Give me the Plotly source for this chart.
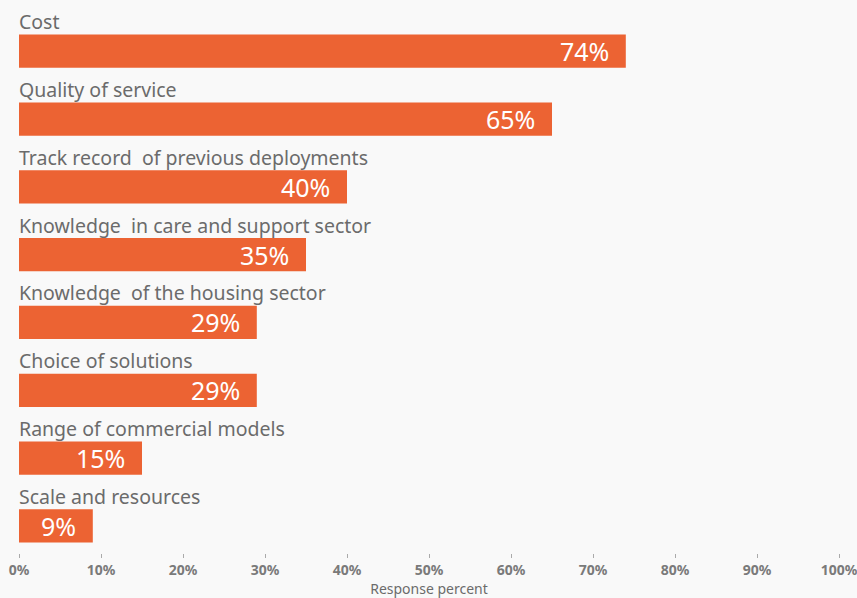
import plotly.graph_objects as go

# Survey factors and share of responses (%)
categories = [
    "Cost",
    "Quality of service",
    "Track record  of previous deployments",
    "Knowledge  in care and support sector",
    "Knowledge  of the housing sector",
    "Choice of solutions",
    "Range of commercial models",
    "Scale and resources",
]
values = [74, 65, 40, 35, 29, 29, 15, 9]
tick_values = [0, 10, 20, 30, 40, 50, 60, 70, 80, 90, 100]
tick_labels = [f"{t}%" for t in tick_values]

BAR_COLOR = "#EC6333"
BG = "#F9F9F9"
LABEL_COLOR = "#6B6B6B"
FONT = "'Noto Sans', 'Open Sans', sans-serif"

fig = go.Figure(
    go.Bar(
        x=values,
        y=categories,
        orientation="h",
        marker=dict(color=BAR_COLOR, line=dict(width=0)),
        width=0.49,
        hoverinfo="skip",
    )
)

annotations = []
for cat, val in zip(categories, values):
    # factor name sitting just above its bar
    annotations.append(dict(
        x=0, y=cat, xref="x", yref="y",
        text=cat, showarrow=False,
        xanchor="left", yanchor="bottom",
        xshift=-2, yshift=14,
        font=dict(family=FONT, size=19.5, color=LABEL_COLOR),
    ))
    # value label inside the bar end
    annotations.append(dict(
        x=val, y=cat, xref="x", yref="y",
        text=f"{val}%", showarrow=False,
        xanchor="right", yanchor="middle",
        xshift=-15, yshift=0,
        font=dict(family=FONT, size=25, color="white"),
    ))

fig.update_layout(
    width=857, height=598,
    margin=dict(l=19, r=18, t=18, b=45),
    paper_bgcolor=BG, plot_bgcolor=BG,
    showlegend=False,
    annotations=annotations,
    xaxis=dict(
        range=[0, 100],
        tickvals=tick_values, ticktext=tick_labels,
        ticks="outside", ticklen=4, tickwidth=1, tickcolor="#AAAAAA",
        showgrid=False, zeroline=False, showline=False,
        tickfont=dict(family=FONT, size=14, color="#7A7A7A", weight="bold"),
        ticklabeloverflow="allow",
        title=dict(text="Response percent", standoff=1,
                   font=dict(family=FONT, size=14, color="#6B6B6B")),
        automargin=False,
        fixedrange=True,
    ),
    yaxis=dict(
        type="category",
        categoryorder="array", categoryarray=categories,
        range=[7.40, -0.49],
        showticklabels=False, showgrid=False, zeroline=False,
        showline=False, ticks="",
        automargin=False,
        fixedrange=True,
    ),
)

fig.write_html("out.html")
